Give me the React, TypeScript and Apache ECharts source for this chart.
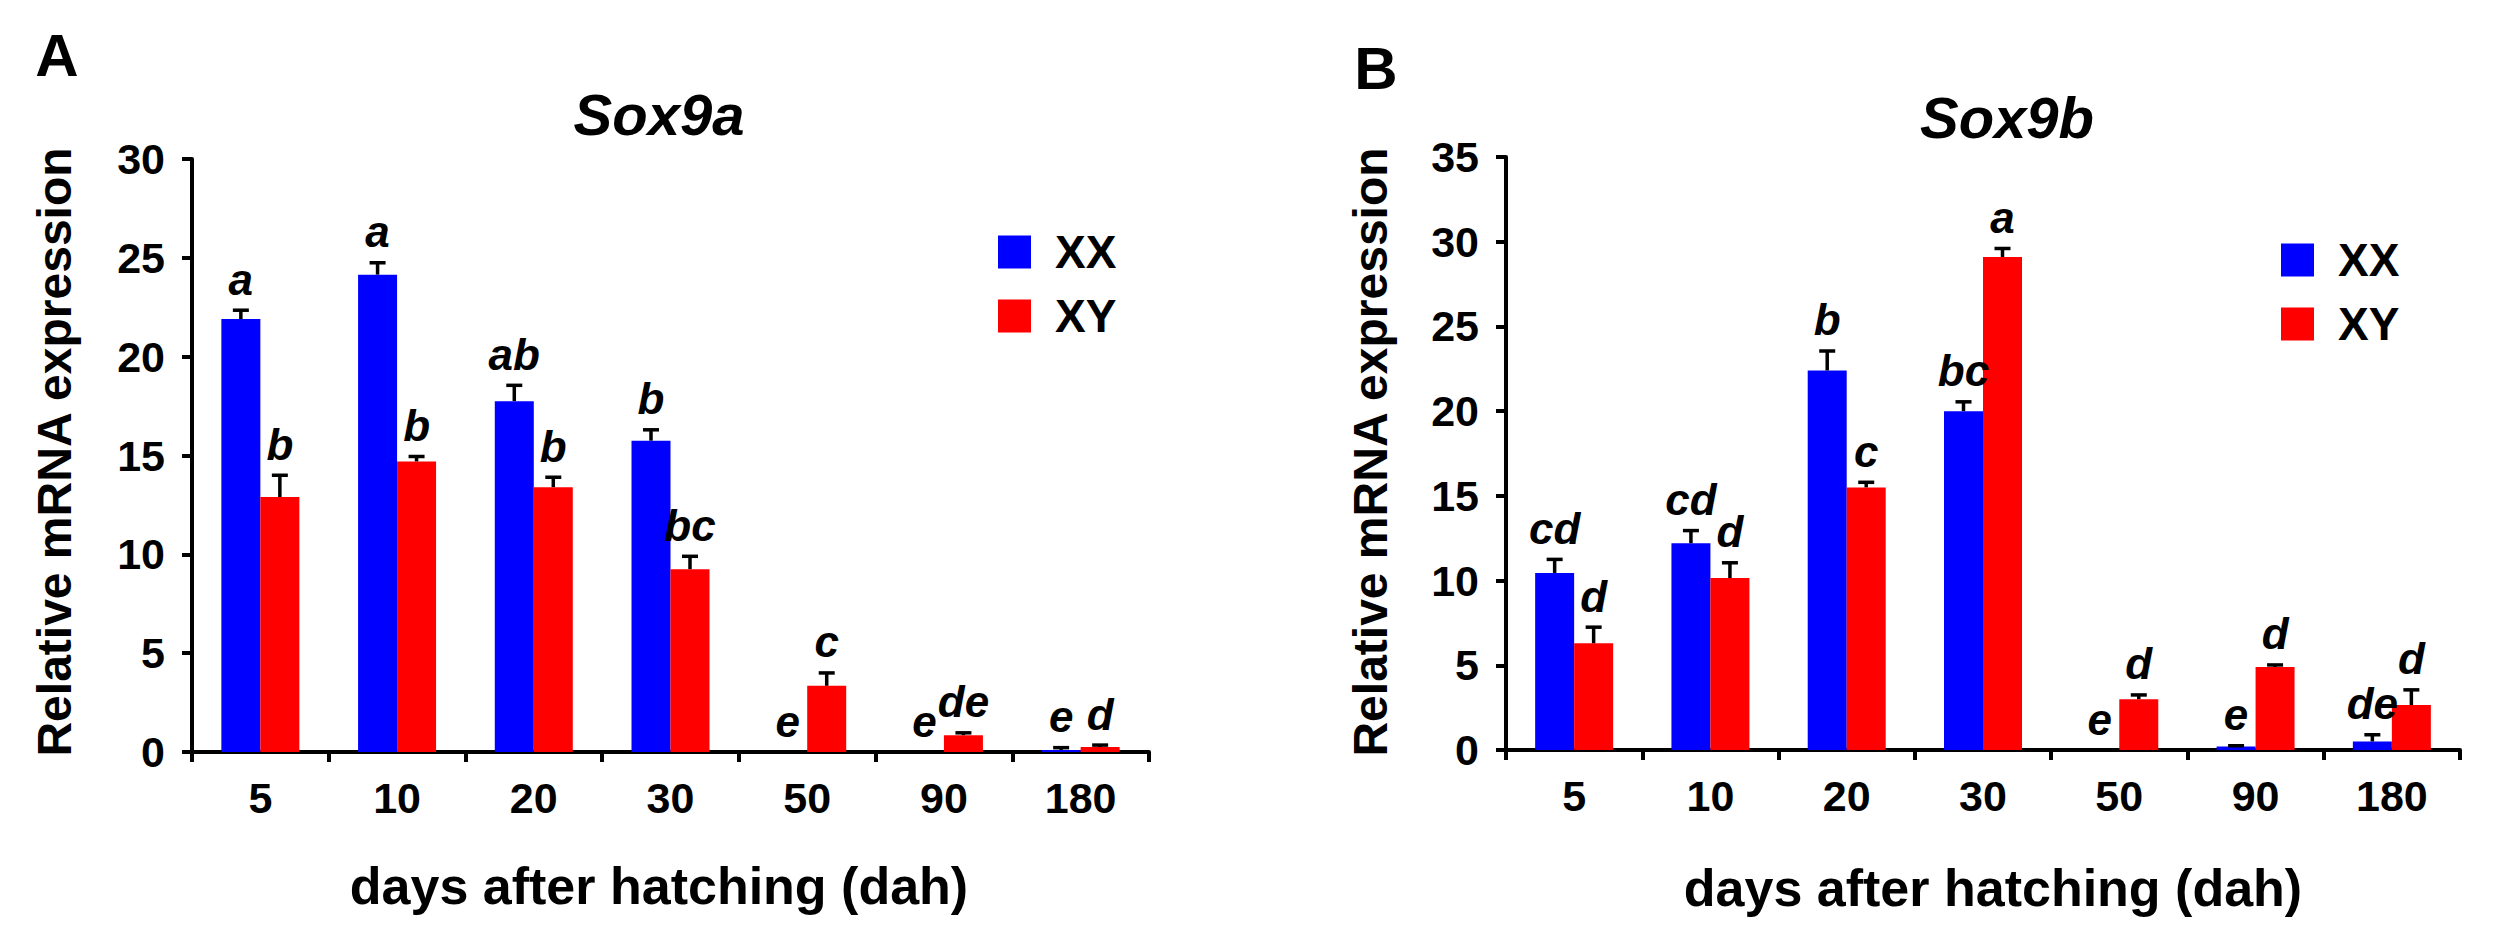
import { useEffect, useRef } from "react";
import * as echarts from "echarts";

const categories = ["5", "10", "20", "30", "50", "90", "180"];

// Sox9a (panel A)
const sox9aXX = [21.9, 24.15, 17.75, 15.75, 0, 0, 0.1];
const sox9aXXErr = [0.45, 0.6, 0.8, 0.55, 0, 0, 0.12];
const sox9aXY = [12.9, 14.7, 13.4, 9.25, 3.35, 0.85, 0.25];
const sox9aXYErr = [1.1, 0.25, 0.5, 0.65, 0.65, 0.12, 0.1];
const sox9aXXLetters = ["a", "a", "ab", "b", "e", "e", "e"];
const sox9aXYLetters = ["b", "b", "b", "bc", "c", "de", "d"];

// Sox9b (panel B)
const sox9bXX = [10.45, 12.2, 22.4, 20.0, 0, 0.2, 0.5];
const sox9bXXErr = [0.8, 0.75, 1.15, 0.55, 0, 0.05, 0.4];
const sox9bXY = [6.3, 10.15, 15.5, 29.1, 3.0, 4.9, 2.65];
const sox9bXYErr = [0.95, 0.9, 0.3, 0.5, 0.25, 0.12, 0.9];
const sox9bXXLetters = ["cd", "cd", "b", "bc", "e", "e", "de"];
const sox9bXYLetters = ["d", "d", "c", "a", "d", "d", "d"];

const FONT = '"Liberation Sans", Arial, Helvetica, sans-serif';
const BLUE = "#0000ff";
const RED = "#ff0000";
const BAR_W = 39;

function errorSeries(values: number[], errs: number[], letters: string[], offset: number, axis: number) {
  return {
    type: "custom",
    xAxisIndex: axis,
    yAxisIndex: axis,
    z: 5,
    data: values.map((v, i) => [i, v, errs[i]]),
    renderItem: (params: any, api: any) => {
      const i = api.value(0);
      const v = api.value(1);
      const e = api.value(2);
      const base = api.coord([i, v]);
      const top = api.coord([i, v + e]);
      const cx = base[0] + offset;
      const children: any[] = [];
      if (e > 0) {
        children.push({
          type: "line",
          shape: { x1: cx, y1: base[1], x2: cx, y2: top[1] },
          style: { stroke: "#000", lineWidth: 3.5 }
        });
        children.push({
          type: "line",
          shape: { x1: cx - 8, y1: top[1], x2: cx + 8, y2: top[1] },
          style: { stroke: "#000", lineWidth: 3.5 }
        });
      }
      children.push({
        type: "text",
        x: cx,
        y: top[1] - 9,
        style: {
          text: letters[params.dataIndex],
          fontFamily: FONT,
          fontSize: 44,
          fontWeight: "bold",
          fontStyle: "italic",
          fill: "#000",
          align: "center",
          verticalAlign: "bottom"
        }
      });
      return { type: "group", children };
    }
  };
}

function xAxis(grid: number) {
  return {
    type: "category",
    gridIndex: grid,
    data: categories,
    axisLine: { lineStyle: { color: "#000", width: 4 } },
    axisTick: { show: true, length: 10, interval: 0, lineStyle: { color: "#000", width: 4 } },
    axisLabel: { color: "#000", fontFamily: FONT, fontSize: 43, fontWeight: "bold", margin: 24, interval: 0 },
    splitLine: { show: false }
  };
}

function yAxis(grid: number, max: number) {
  return {
    type: "value",
    gridIndex: grid,
    min: 0,
    max,
    interval: 5,
    axisLine: { show: true, lineStyle: { color: "#000", width: 4 } },
    axisTick: { show: true, length: 10, lineStyle: { color: "#000", width: 4 } },
    axisLabel: { color: "#000", fontFamily: FONT, fontSize: 43, fontWeight: "bold", margin: 27 },
    splitLine: { show: false }
  };
}

function legend(left: number, top: number) {
  return {
    left,
    top,
    orient: "vertical",
    data: ["XX", "XY"],
    icon: "rect",
    itemWidth: 33,
    itemHeight: 33,
    itemGap: 18,
    selectedMode: false,
    textStyle: { color: "#000", fontFamily: FONT, fontSize: 46, fontWeight: "bold", lineHeight: 33, padding: [0, 0, 0, 19] }
  };
}

function label(text: string, x: number, y: number, size: number, extra: any = {}) {
  return {
    type: "text",
    x,
    y,
    rotation: extra.rotation || 0,
    style: {
      text,
      fontFamily: FONT,
      fontSize: size,
      fontWeight: "bold",
      fontStyle: extra.italic ? "italic" : "normal",
      fill: "#000",
      align: "center",
      verticalAlign: "middle"
    }
  };
}

export default function App() {
  const chartRef = useRef<HTMLDivElement>(null);

  useEffect(() => {
    if (!chartRef.current) return;
    const chart = echarts.init(chartRef.current, null, { renderer: "svg" });

    const option = {
      animation: false,
      backgroundColor: "#fff",
      grid: [
        { left: 192, top: 159, width: 957, height: 593 },
        { left: 1506, top: 157, width: 954, height: 593 }
      ],
      xAxis: [xAxis(0), xAxis(1)],
      yAxis: [yAxis(0, 30), yAxis(1, 35)],
      legend: [legend(993, 224), legend(2276, 232)],
      series: [
        { name: "XX", type: "bar", xAxisIndex: 0, yAxisIndex: 0, data: sox9aXX, barWidth: BAR_W, barGap: "0%", itemStyle: { color: BLUE } },
        { name: "XY", type: "bar", xAxisIndex: 0, yAxisIndex: 0, data: sox9aXY, barWidth: BAR_W, barGap: "0%", itemStyle: { color: RED } },
        { name: "XX", type: "bar", xAxisIndex: 1, yAxisIndex: 1, data: sox9bXX, barWidth: BAR_W, barGap: "0%", itemStyle: { color: BLUE } },
        { name: "XY", type: "bar", xAxisIndex: 1, yAxisIndex: 1, data: sox9bXY, barWidth: BAR_W, barGap: "0%", itemStyle: { color: RED } },
        errorSeries(sox9aXX, sox9aXXErr, sox9aXXLetters, -BAR_W / 2, 0),
        errorSeries(sox9aXY, sox9aXYErr, sox9aXYLetters, BAR_W / 2, 0),
        errorSeries(sox9bXX, sox9bXXErr, sox9bXXLetters, -BAR_W / 2, 1),
        errorSeries(sox9bXY, sox9bXYErr, sox9bXYLetters, BAR_W / 2, 1)
      ],
      graphic: [
        label("A", 57, 55, 60),
        label("B", 1376, 68, 60),
        label("Sox9a", 659, 114, 58, { italic: true }),
        label("Sox9b", 2007, 117, 58, { italic: true }),
        label("Relative mRNA expression", 54, 452, 48, { rotation: Math.PI / 2 }),
        label("Relative mRNA expression", 1370, 452, 48, { rotation: Math.PI / 2 }),
        label("days after hatching (dah)", 659, 886, 52),
        label("days after hatching (dah)", 1993, 888, 52)
      ]
    };

    chart.setOption(option as any);
    return () => {
      chart.dispose();
    };
  }, []);

  return <div ref={chartRef} style={{ position: "absolute", left: 0, top: 0, width: 2496, height: 947 }} />;
}
